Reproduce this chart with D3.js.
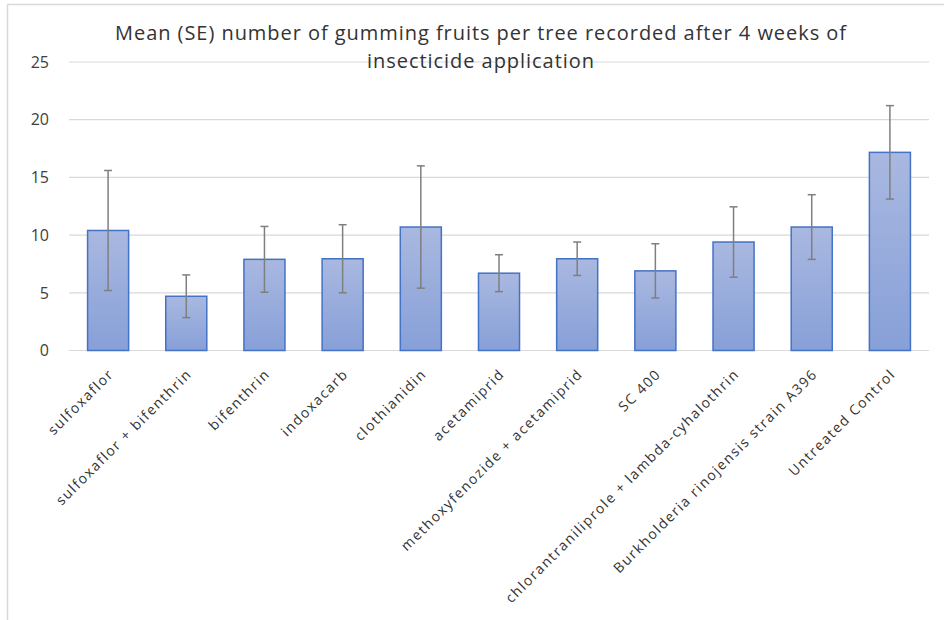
<!DOCTYPE html>
<html>
<head>
<meta charset="utf-8">
<script src="https://cdn.jsdelivr.net/npm/d3@7"></script>
<style>
  body { margin: 0; background: #fff; }
  svg { display: block; font-family: "Open Sans", "Liberation Sans", sans-serif; }
</style>
</head>
<body>
<svg id="chart" width="944" height="620"></svg>
<script>
// Chart data
const treatments = [
  "sulfoxaflor",
  "sulfoxaflor + bifenthrin",
  "bifenthrin",
  "indoxacarb",
  "clothianidin",
  "acetamiprid",
  "methoxyfenozide + acetamiprid",
  "SC 400",
  "chlorantraniliprole + lambda-cyhalothrin",
  "Burkholderia rinojensis strain A396",
  "Untreated Control"
];
const means = [10.4, 4.7, 7.9, 7.95, 10.7, 6.7, 7.95, 6.9, 9.4, 10.7, 17.17];
const errors = [5.2, 1.85, 2.85, 2.95, 5.3, 1.6, 1.45, 2.35, 3.05, 2.8, 4.05];
const yTicks = [0, 5, 10, 15, 20, 25];
const titleLines = [
  "Mean (SE) number of gumming fruits per tree recorded after 4 weeks of",
  "insecticide application"
];

const data = treatments.map((t, i) => ({ name: t, mean: means[i], se: errors[i] }));

const svg = d3.select("#chart");

// Outer chart frame
svg.append("rect")
  .attr("x", 7.5).attr("y", 4.5)
  .attr("width", 1000).attr("height", 1000)
  .attr("fill", "none").attr("stroke", "#d9d9d9").attr("stroke-width", 1.5);

// Gradient for the bars
const grad = svg.append("defs").append("linearGradient")
  .attr("id", "barGrad").attr("x1", 0).attr("y1", 0).attr("x2", 0).attr("y2", 1);
grad.append("stop").attr("offset", "0%").attr("stop-color", "#a9b8e0");
grad.append("stop").attr("offset", "100%").attr("stop-color", "#87a0d8");

const plotLeft = 69, plotRight = 929;
const x = d3.scaleBand().domain(treatments).range([plotLeft, plotRight]).paddingInner(0.475).paddingOuter(0.2375);
const y = d3.scaleLinear().domain([0, 25]).range([350.5, 62]);

// Gridlines
svg.append("g")
  .selectAll("line")
  .data(yTicks)
  .join("line")
  .attr("x1", plotLeft).attr("x2", plotRight)
  .attr("y1", (d) => y(d)).attr("y2", (d) => y(d))
  .attr("stroke", "#d9d9d9").attr("stroke-width", 1.2);

// Y tick labels
svg.append("g")
  .selectAll("text")
  .data(yTicks)
  .join("text")
  .attr("x", 49).attr("y", (d) => y(d))
  .attr("dy", "0.36em")
  .attr("text-anchor", "end")
  .attr("fill", "#404040")
  .style("font-size", "16px")
  .text((d) => d);

// Bars
svg.append("g")
  .selectAll("rect")
  .data(data)
  .join("rect")
  .attr("x", (d) => x(d.name))
  .attr("y", (d) => y(d.mean))
  .attr("width", x.bandwidth())
  .attr("height", (d) => y(0) - y(d.mean))
  .attr("fill", "url(#barGrad)")
  .attr("stroke", "#4472c4").attr("stroke-width", 1.5);

// Error bars
const errG = svg.append("g").attr("stroke", "#7f7f7f").attr("stroke-width", 1.5);
data.forEach((d) => {
  const cx = x(d.name) + x.bandwidth() / 2;
  errG.append("line").attr("x1", cx).attr("x2", cx).attr("y1", y(d.mean + d.se)).attr("y2", y(d.mean - d.se));
  errG.append("line").attr("x1", cx - 4).attr("x2", cx + 4).attr("y1", y(d.mean + d.se)).attr("y2", y(d.mean + d.se));
  errG.append("line").attr("x1", cx - 4).attr("x2", cx + 4).attr("y1", y(d.mean - d.se)).attr("y2", y(d.mean - d.se));
});

// Category labels, rotated
svg.append("g")
  .selectAll("text")
  .data(treatments)
  .join("text")
  .attr("transform", (d) => `translate(${x(d) + x.bandwidth() / 2 + 3},${y(0) + 21}) rotate(-45)`)
  .attr("text-anchor", "end")
  .attr("dy", "0.35em")
  .attr("fill", "#333")
  .style("font-size", "14px")
  .style("letter-spacing", "1.5px")
  .text((d) => d);

// Title
svg.append("g")
  .selectAll("text")
  .data(titleLines)
  .join("text")
  .attr("x", 481)
  .attr("y", (d, i) => 40 + i * 28)
  .attr("text-anchor", "middle")
  .attr("fill", "#333")
  .style("font-size", "20px")
  .style("letter-spacing", "0.95px")
  .text((d) => d);
</script>
</body>
</html>
